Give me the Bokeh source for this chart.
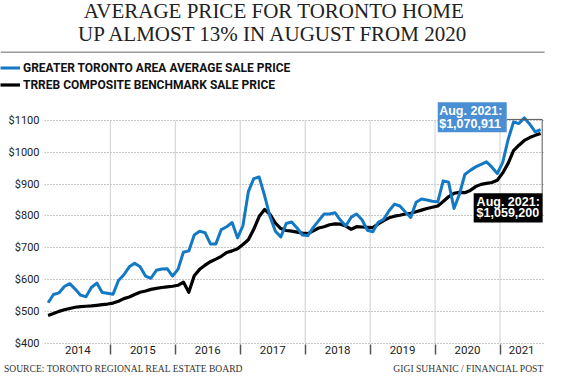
from bokeh.plotting import figure
from bokeh.models import FixedTicker, Label, BoxAnnotation, Arrow, Legend, LegendItem, Range1d
from bokeh.embed import file_html
from bokeh.resources import INLINE

# ---------------- data (thousands of dollars, monthly Jan 2014 .. Aug 2021) -------------
years = ["2014", "2015", "2016", "2017", "2018", "2019", "2020", "2021"]
gta_average = [
    527, 553, 558, 578, 587, 570, 551, 546, 575, 589, 559, 557,
    554, 597, 615, 640, 651, 640, 611, 604, 629, 633, 634, 611,
    632, 686, 690, 740, 752, 747, 712, 712, 757, 766, 779, 731,
    769, 876, 917, 922, 864, 798, 752, 734, 776, 781, 762, 740,
    738, 764, 785, 806, 806, 810, 787, 768, 796, 806, 788, 755,
    750, 780, 789, 816, 837, 831, 812, 795, 843, 853, 850, 846,
    844, 910, 906, 823, 868, 930, 943, 954, 962, 970, 953, 933,
    968, 1040, 1095, 1090, 1108, 1088, 1064, 1071,
]
trreb_benchmark = [
    487, 493, 500, 505, 509, 513, 515, 516, 517, 519, 521, 523,
    526, 532, 540, 545, 553, 560, 564, 569, 572, 575, 577, 579,
    582, 592, 560, 612, 632, 645, 656, 664, 673, 685, 690, 697,
    710, 725, 758, 798, 820, 805, 777, 760, 754, 752, 749, 746,
    744, 753, 762, 766, 772, 775, 774, 768, 758, 766, 765, 764,
    763, 775, 785, 794, 799, 802, 806, 808, 813, 818, 823, 827,
    831, 845, 860, 871, 874, 873, 880, 892, 899, 902, 905, 912,
    935, 965, 1005, 1022, 1037, 1046, 1053, 1059,
]
y_ticks = [400, 500, 600, 700, 800, 900, 1000, 1100]
y_tick_labels = ["$400", "$500", "$600", "$700", "$800", "$900", "$1000", "$1100"]
series_names = ["GREATER TORONTO AREA AVERAGE SALE PRICE", "TRREB COMPOSITE BENCHMARK SALE PRICE"]
title_lines = ["AVERAGE PRICE FOR TORONTO HOME", "UP ALMOST 13% IN AUGUST FROM 2020"]
gta_label = ["Aug. 2021:", "$1,070,911"]
trreb_label = ["Aug. 2021:", "$1,059,200"]
source_text = "SOURCE: TORONTO REGIONAL REAL ESTATE BOARD"
credit_text = "GIGI SUHANIC / FINANCIAL POST"

months = list(range(len(gta_average)))
year_starts = [12 * k for k in range(len(years))]
year_bounds = [s - 0.5 for s in year_starts[1:]]
year_centers = [(a + b) / 2 for a, b in zip([-0.5] + year_bounds, year_bounds + [months[-1] + 0.5])]

# ---------------- layout ----------------
W = 548
HH, MH, FH = 96, 262, 16          # header / main / footer heights
SX, SY = 548 / 564, 0.969


def fx(x):
    return x * SX


def fy(y):
    return (y - 3) * SY


# main frame (global coords)
FL, FR, FT, FB = 44, 544, 98, 344
X0, X1 = -0.665, 91.72
Y0, Y1 = 395.9, 1168.8


def rx(x):
    return X0 + (fx(x) - FL) / (FR - FL) * (X1 - X0)


def ry(y):
    return Y1 - (fy(y) - FT) / (FB - FT) * (Y1 - Y0)


TICKFONT = "Roboto"
LEGFONT = "Roboto"
SERIF = "Liberation Serif"
BLUE = "#1479c4"


def blank(h):
    f = figure(width=W, height=h, x_range=Range1d(0, W), y_range=Range1d(h, 0),
               x_axis_type=None, y_axis_type=None, output_backend="svg",
               toolbar_location=None, title=None,
               min_border_left=0, min_border_right=0, min_border_top=0, min_border_bottom=0)
    f.outline_line_color = None
    f.background_fill_color = "white"
    f.border_fill_color = "white"
    return f


# ---------------- header ----------------
header = blank(HH)
for txt, ym in zip(title_lines, [13.5, 38]):
    header.add_layout(Label(x=fx(281.5), y=fy(ym), text=txt, text_align="center",
                            text_baseline="middle", text_font=SERIF,
                            text_font_size="21px", text_color="#222222"))
header.segment(x0=[fx(0)], y0=[fy(56.5)], x1=[fx(560)], y1=[fy(56.5)],
               line_color="#9a9a9a", line_width=1.5)
# legend swatch renderers (kept outside the visible range)
d_blue = header.line(x=[-50, -40], y=[-50, -50], line_color=BLUE, line_width=3)
d_black = header.line(x=[-50, -40], y=[-50, -50], line_color="black", line_width=3.2)
legend = Legend(items=[LegendItem(label=series_names[0], renderers=[d_blue]),
                       LegendItem(label=series_names[1], renderers=[d_black])],
                location=(0, 3), orientation="vertical", glyph_width=20, glyph_height=17,
                label_height=17, label_standoff=3, spacing=0, padding=0, margin=0,
                border_line_color=None, background_fill_alpha=0,
                label_text_font=LEGFONT, label_text_font_style="bold",
                label_text_font_size="12px", label_text_color="#111111")
header.add_layout(legend, "center")

# ---------------- main chart ----------------
p = figure(width=W, height=MH, x_range=Range1d(X0, X1), y_range=Range1d(Y0, Y1),
           output_backend="svg", toolbar_location=None, title=None,
           min_border_left=FL, min_border_right=W - FR, min_border_top=FT - HH,
           min_border_bottom=HH + MH - FB)
p.outline_line_color = None
p.background_fill_color = "white"
p.border_fill_color = "white"

p.yaxis.ticker = FixedTicker(ticks=y_ticks)
p.yaxis.major_label_overrides = dict(zip(y_ticks, y_tick_labels))
p.yaxis.axis_line_color = None
p.yaxis.major_tick_line_color = None
p.yaxis.minor_tick_line_color = None
p.yaxis.major_tick_out = 0
p.yaxis.major_tick_in = 0
p.yaxis.major_label_standoff = 5
p.yaxis.major_label_text_font = TICKFONT
p.yaxis.major_label_text_font_size = "11px"
p.yaxis.major_label_text_color = "#222222"

p.xaxis.ticker = FixedTicker(ticks=year_centers, minor_ticks=year_bounds)
p.xaxis.major_label_overrides = dict(zip(year_centers, years))
p.xaxis.axis_line_color = None
p.xaxis.major_tick_line_color = None
p.xaxis.major_tick_out = 0
p.xaxis.major_tick_in = 0
p.xaxis.minor_tick_line_color = "#555555"
p.xaxis.minor_tick_line_width = 1.5
p.xaxis.minor_tick_out = 10
p.xaxis.minor_tick_in = 0
p.xaxis.major_label_standoff = -9
p.xaxis.major_label_text_font = TICKFONT
p.xaxis.major_label_text_font_size = "11.5px"
p.xaxis.major_label_text_color = "#222222"

p.xgrid.grid_line_color = None
p.ygrid.grid_line_color = "#8a8a8a"
p.ygrid.grid_line_dash = "1 2"
p.ygrid.grid_line_width = 1

p.segment(x0=year_bounds, y0=[y_ticks[0]] * len(year_bounds), x1=year_bounds,
          y1=[y_ticks[-1]] * len(year_bounds), line_color="#cfcfcf", line_width=1)

p.line(months, trreb_benchmark, line_color="black", line_width=3.2, line_join="round")
p.line(months, gta_average, line_color=BLUE, line_width=3, line_join="round")

# callouts
p.add_layout(Arrow(end=None, x_start=rx(521), y_start=ry(125.7), x_end=rx(557.5), y_end=ry(125.7),
                   line_color="#555555", line_width=1))
p.add_layout(Arrow(end=None, x_start=rx(557.5), y_start=ry(125.7), x_end=rx(557.5), y_end=ry(202),
                   line_color="#555555", line_width=1))
p.add_layout(BoxAnnotation(left=rx(450), right=rx(521), top=ry(108), bottom=ry(139),
                           fill_color="#4a8fd3", fill_alpha=1, line_color=None))
p.add_layout(BoxAnnotation(left=rx(487), right=rx(558), top=ry(202), bottom=ry(232),
                           fill_color="black", fill_alpha=1, line_color=None))
for txt, xl, ym in [(gta_label[0], 451.5, 117.3), (gta_label[1], 451.5, 130.2),
                    (trreb_label[0], 490, 210.5), (trreb_label[1], 490, 222.5)]:
    p.add_layout(Label(x=rx(xl), y=ry(ym), text=txt, text_align="left", text_baseline="middle",
                       text_font="Liberation Sans", text_font_style="bold", text_font_size="12.5px",
                       text_color="white"))

# ---------------- footer ----------------
footer = blank(FH)
for txt, xa, align in [(source_text, 3.5, "left"), (credit_text, 559, "right")]:
    footer.add_layout(Label(x=fx(xa), y=9.5, text=txt, text_align=align,
                            text_baseline="middle", text_font=SERIF, text_font_size="9.6px",
                            text_color="#333333"))

open("out.html", "w").write(file_html([header, p, footer], INLINE))
